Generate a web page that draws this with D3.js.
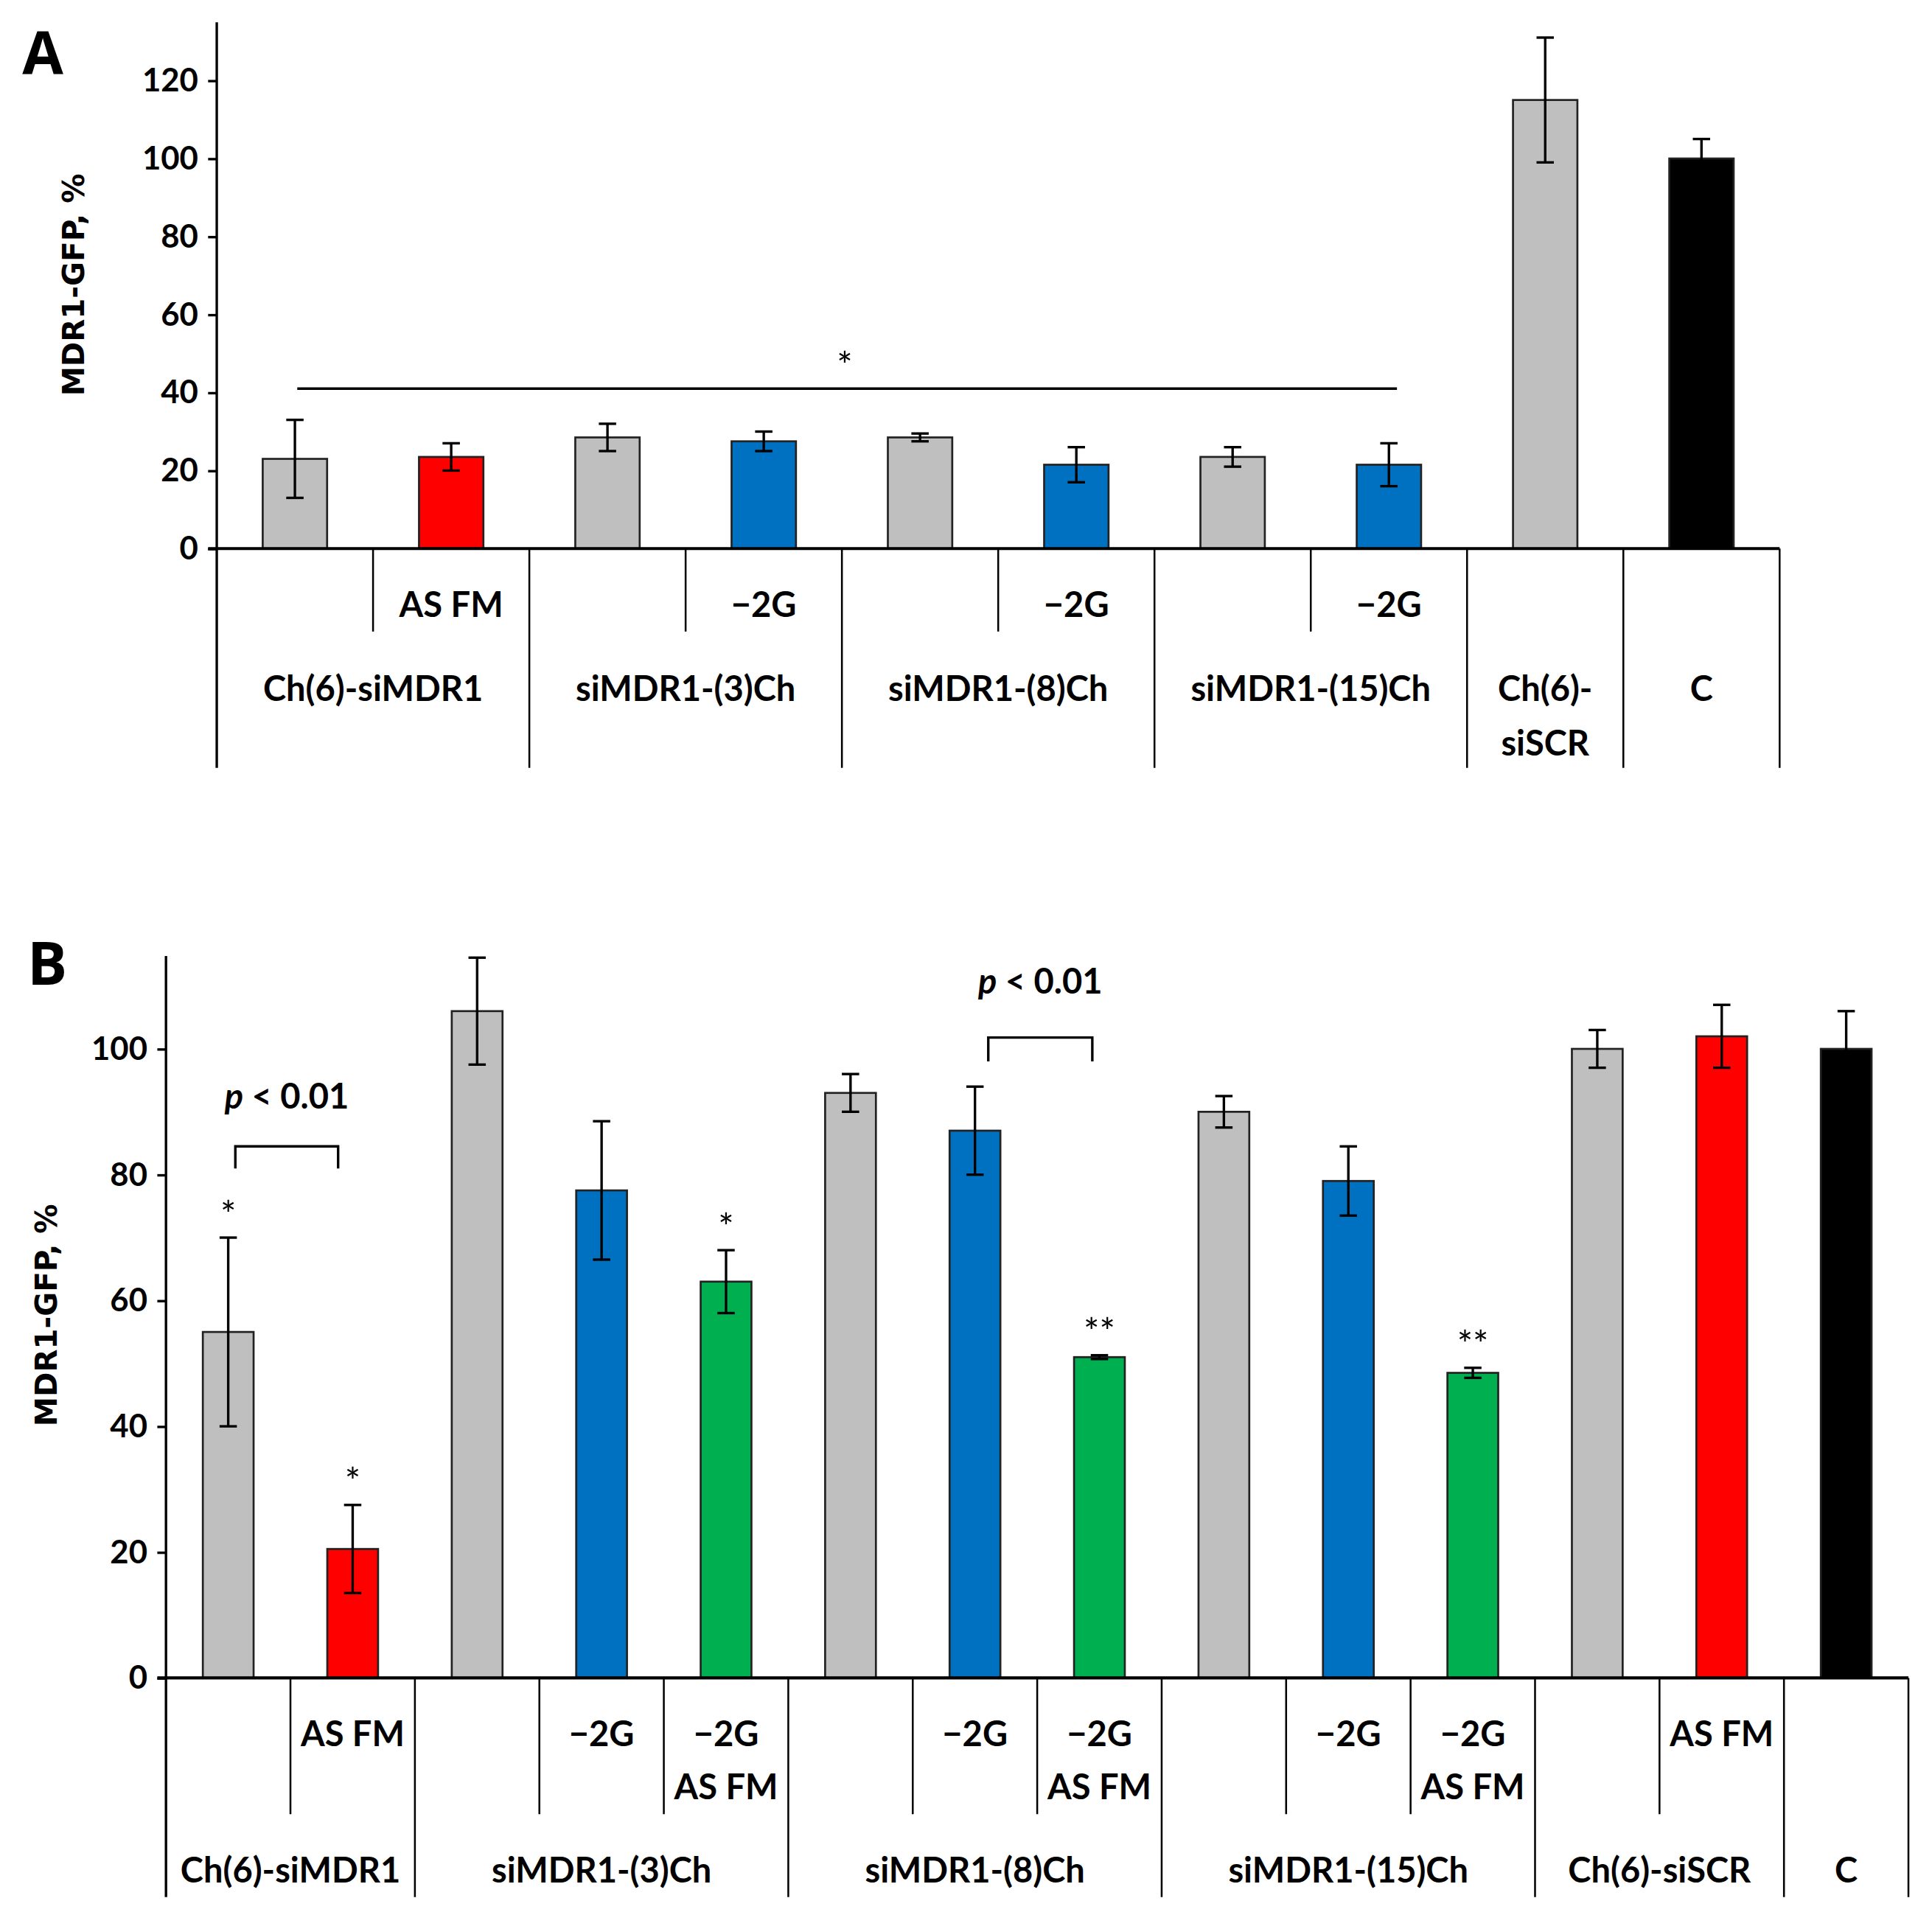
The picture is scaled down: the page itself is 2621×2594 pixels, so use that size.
<!DOCTYPE html>
<html>
<head>
<meta charset="utf-8">
<script src="https://cdn.jsdelivr.net/npm/d3@7"></script>
<style>
  body { margin: 0; background: #fff; }
  text { font-family: Lato, "Open Sans", sans-serif; font-weight: bold; fill: #000; }
</style>
</head>
<body>
<svg id="chart"></svg>
<script>
"use strict"

// ---- panel A data ----
const subA = ["", "AS FM", "", "\u22122G", "", "\u22122G", "", "\u22122G", "", ""];
const groupsA = [
    { label: ["Ch(6)-siMDR1"], span: 2 },
    { label: ["siMDR1-(3)Ch"], span: 2 },
    { label: ["siMDR1-(8)Ch"], span: 2 },
    { label: ["siMDR1-(15)Ch"], span: 2 },
    { label: ["Ch(6)-", "siSCR"], span: 1 },
    { label: ["C"], span: 1 }
];
const valuesA = [23, 23.5, 28.5, 27.5, 28.5, 21.5, 23.5, 21.5, 115, 100];
const errorsA = [10, 3.5, 3.5, 2.5, 1, 4.5, 2.5, 5.5, 16, 5];
const colorsA = ["#bfbfbf", "#ff0000", "#bfbfbf", "#0070c0", "#bfbfbf", "#0070c0", "#bfbfbf", "#0070c0", "#bfbfbf", "#000000"];
const ticksA = [0, 20, 40, 60, 80, 100, 120];

// ---- panel B data ----
const subB = [[""], ["AS FM"], [""], ["\u22122G"], ["\u22122G", "AS FM"], [""], ["\u22122G"], ["\u22122G", "AS FM"],
    [""], ["\u22122G"], ["\u22122G", "AS FM"], [""], ["AS FM"], [""]];
const groupsB = [
    { label: "Ch(6)-siMDR1", span: 2 },
    { label: "siMDR1-(3)Ch", span: 3 },
    { label: "siMDR1-(8)Ch", span: 3 },
    { label: "siMDR1-(15)Ch", span: 3 },
    { label: "Ch(6)-siSCR", span: 2 },
    { label: "C", span: 1 }
];
const valuesB = [55, 20.5, 106, 77.5, 63, 93, 87, 51, 90, 79, 48.5, 100, 102, 100];
const errorsB = [15, 7, 8.5, 11, 5, 3, 7, 0.3, 2.5, 5.5, 0.8, 3, 5, 6];
const colorsB = ["#bfbfbf", "#ff0000", "#bfbfbf", "#0070c0", "#00b050", "#bfbfbf", "#0070c0", "#00b050",
    "#bfbfbf", "#0070c0", "#00b050", "#bfbfbf", "#ff0000", "#000000"];
const starsB = ["*", "*", "", "", "*", "", "", "**", "", "", "**", "", "", ""];
const ticksB = [0, 20, 40, 60, 80, 100];

const svg = d3.select("#chart")
    .attr("width", 2621).attr("height", 2594)
    .attr("viewBox", "0 0 1560 1544");

//draws one panel; cfg holds geometry
function drawPanel(cfg) {
    const g = svg.append("g");
    const x = d3.scaleBand().domain(d3.range(cfg.values.length))
        .range([cfg.x0, cfg.x1]).paddingInner(0).paddingOuter(0);
    const y = d3.scaleLinear().domain([0, cfg.ymax]).range([cfg.y0, cfg.y0 - cfg.pxPerUnit * cfg.ymax]);

    //y axis
    const ax = g.append("g").attr("transform", `translate(${cfg.x0},0)`)
        .call(d3.axisLeft(y).tickValues(cfg.ticks).tickSize(7).tickSizeOuter(0).tickPadding(8));
    ax.select(".domain").remove();
    ax.selectAll("line").attr("stroke", "#000").attr("stroke-width", 2);
    ax.selectAll("text").style("font-size", "26px").style("font-family", "Lato, sans-serif");
    g.append("line").attr("x1", cfg.x0).attr("x2", cfg.x0)
        .attr("y1", cfg.axisTop).attr("y2", cfg.groupBottom)
        .attr("stroke", "#000").attr("stroke-width", 2);

    //bars
    const bw = cfg.barW;
    g.selectAll(".bar").data(cfg.values).join("rect")
        .attr("x", (d, i) => x(i) + x.bandwidth() / 2 - bw / 2)
        .attr("y", d => y(d))
        .attr("width", bw)
        .attr("height", d => y(0) - y(d))
        .attr("fill", (d, i) => cfg.colors[i])
        .attr("stroke", "#222").attr("stroke-width", 1.6);

    //error bars
    cfg.values.forEach((v, i) => {
        const cx = x(i) + x.bandwidth() / 2;
        const e = cfg.errors[i];
        g.append("line").attr("x1", cx).attr("x2", cx).attr("y1", y(v - e)).attr("y2", y(v + e))
            .attr("stroke", "#000").attr("stroke-width", 2);
        [v - e, v + e].forEach(t => g.append("line").attr("x1", cx - 7).attr("x2", cx + 7)
            .attr("y1", y(t)).attr("y2", y(t)).attr("stroke", "#000").attr("stroke-width", 2));
    });

    //baseline
    g.append("line").attr("x1", cfg.x0 - 7).attr("x2", cfg.x1).attr("y1", y(0)).attr("y2", y(0))
        .attr("stroke", "#000").attr("stroke-width", 2.5);

    //category separators
    let idx = 0;
    cfg.groups.forEach(gr => {
        for (let k = 1; k < gr.span; k++) {
            const sx = x(idx + k);
            g.append("line").attr("x1", sx).attr("x2", sx).attr("y1", y(0)).attr("y2", cfg.subBottom)
                .attr("stroke", "#000").attr("stroke-width", 1.5);
        }
        idx += gr.span;
        const gx = idx === cfg.values.length ? cfg.x1 : x(idx);
        g.append("line").attr("x1", gx).attr("x2", gx).attr("y1", y(0)).attr("y2", cfg.groupBottom)
            .attr("stroke", "#000").attr("stroke-width", 1.5);
    });

    g.append("text").attr("transform", `translate(${cfg.titleX},${cfg.titleY}) rotate(-90)`)
        .attr("text-anchor", "middle").style("font-family", "Verdana, 'DejaVu Sans', sans-serif")
        .style("font-size", "24px").text("MDR1-GFP, %");
    g.append("text").attr("x", cfg.letterX).attr("y", cfg.letterY)
        .style("font-size", "48px").style("font-family", "'Open Sans', sans-serif").text(cfg.letter);

    return { g, x, y };
}

// ---- panel A ----
const A = drawPanel({
    values: valuesA, errors: errorsA, colors: colorsA, ticks: ticksA, groups: groupsA,
    x0: 175, x1: 1437, y0: 443, pxPerUnit: 63 / 20, ymax: 130, axisTop: 18,
    barW: 52, subBottom: 510, groupBottom: 620, titleX: 68, titleY: 230,
    letter: "A", letterX: 18, letterY: 60
});
subA.forEach((s, i) => A.g.append("text").attr("x", A.x(i) + A.x.bandwidth() / 2).attr("y", 498)
    .attr("text-anchor", "middle").style("font-size", "28px").text(s));
{
    let idx = 0;
    groupsA.forEach(gr => {
        const cx = (A.x(idx) + A.x(idx) + gr.span * A.x.bandwidth()) / 2;
        gr.label.forEach((l, j) => A.g.append("text").attr("x", cx).attr("y", 566 + j * 44)
            .attr("text-anchor", "middle").style("font-size", "28px").text(l));
        idx += gr.span;
    });
}
//significance line
A.g.append("line").attr("x1", 240).attr("x2", 1128).attr("y1", A.y(41)).attr("y2", A.y(41))
    .attr("stroke", "#000").attr("stroke-width", 2);
A.g.append("text").attr("x", 682).attr("y", A.y(41) - 8).attr("text-anchor", "middle")
    .style("font-size", "30px").style("font-weight", "normal").text("*");

// ---- panel B ----
const B = drawPanel({
    values: valuesB, errors: errorsB, colors: colorsB, ticks: ticksB, groups: groupsB,
    x0: 134, x1: 1541, y0: 1355, pxPerUnit: 101.6 / 20, ymax: 114.5, axisTop: 772,
    barW: 41, subBottom: 1465, groupBottom: 1532, titleX: 46, titleY: 1062,
    letter: "B", letterX: 22, letterY: 795
});
subB.forEach((s, i) => s.forEach((l, j) => B.g.append("text")
    .attr("x", B.x(i) + B.x.bandwidth() / 2).attr("y", 1410 + j * 43)
    .attr("text-anchor", "middle").style("font-size", "28px").text(l)));
{
    let idx = 0;
    groupsB.forEach(gr => {
        const cx = B.x(idx) + gr.span * B.x.bandwidth() / 2;
        B.g.append("text").attr("x", cx).attr("y", 1520).attr("text-anchor", "middle")
            .style("font-size", "28px").text(gr.label);
        idx += gr.span;
    });
}
//stars above error bars
starsB.forEach((s, i) => {
    if (!s) return;
    B.g.append("text").attr("x", B.x(i) + B.x.bandwidth() / 2)
        .attr("y", B.y(valuesB[i] + errorsB[i]) - 8).attr("text-anchor", "middle")
        .style("font-size", "30px").style("font-weight", "normal").text(s);
});
//p-value brackets
function bracket(xa, xb, top, leg, labelY) {
    B.g.append("path")
        .attr("d", `M${xa},${B.y(leg)}V${B.y(top)}H${xb}V${B.y(leg)}`)
        .attr("fill", "none").attr("stroke", "#000").attr("stroke-width", 2);
    const t = B.g.append("text").attr("x", (xa + xb) / 2).attr("y", B.y(labelY))
        .attr("text-anchor", "middle").style("font-size", "28px");
    t.append("tspan").style("font-style", "italic").text("p");
    t.append("tspan").text(" < 0.01");
}
bracket(190, 273, 84.5, 81, 90.5);
bracket(798, 882, 101.8, 98, 108.8);
</script>
</body>
</html>
